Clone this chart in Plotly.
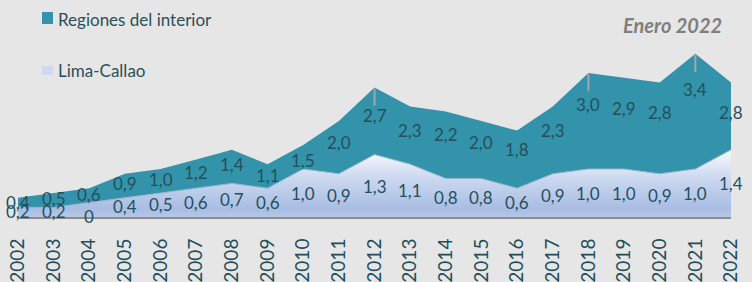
import plotly.graph_objects as go

years = list(range(2002, 2023))
year_labels = [str(y) for y in years]

regiones = [0.4, 0.5, 0.6, 0.9, 1.0, 1.2, 1.4, 1.1, 1.5, 2.0, 2.7, 2.3, 2.2, 2.0, 1.8, 2.3, 3.0, 2.9, 2.8, 3.4, 2.8]
lima = [0.2, 0.2, 0.3, 0.4, 0.5, 0.6, 0.7, 0.6, 1.0, 0.9, 1.3, 1.1, 0.8, 0.8, 0.6, 0.9, 1.0, 1.0, 0.9, 1.0, 1.4]

regiones_text = ["0,4", "0,5", "0,6", "0,9", "1,0", "1,2", "1,4", "1,1", "1,5", "2,0", "2,7",
                 "2,3", "2,2", "2,0", "1,8", "2,3", "3,0", "2,9", "2,8", "3,4", "2,8"]
lima_text = ["0,2", "0,2", "0", "0,4", "0,5", "0,6", "0,7", "0,6", "1,0", "0,9", "1,3",
             "1,1", "0,8", "0,8", "0,6", "0,9", "1,0", "1,0", "0,9", "1,0", "1,4"]
leader_years = [2012, 2018, 2021]

W_FIG, H_FIG = 752, 282
L, R, T, B = 18, 21, 1, 65
PW, PH = W_FIG - L - R, H_FIG - T - B

def pxx(p):
    return (p - L) / PW

def pxy(p):
    return 1 - (p - T) / PH

TEAL = "#3393AA"
LABEL_C = "#23505C"
FONT = "Lato"

fig = go.Figure()
fig.add_trace(go.Scatter(
    x=years, y=regiones, mode="none", fill="tozeroy", fillcolor=TEAL,
    name="Regiones del interior", showlegend=False, hoverinfo="skip"))
fig.add_trace(go.Scatter(
    x=years, y=lima, mode="lines", fill="tozeroy",
    line=dict(color="#9CB6CC", width=1),
    fillgradient=dict(type="vertical", start=0, stop=max(lima),
                      colorscale=[[0, "#B6C7E8"], [0.12, "#A9BDE3"], [0.55, "#C9D6EF"], [1, "#F8FAFE"]]),
    name="Lima-Callao", showlegend=False, hoverinfo="skip"))

annotations = []
for x, v, t in zip(years, regiones, regiones_text):
    annotations.append(dict(x=x, y=0.78 * v, text=t, showarrow=False, xanchor="center", yanchor="middle",
                            font=dict(family=FONT, size=17, color=LABEL_C)))
for x, t in zip(years, lima_text):
    v = float(t.replace(",", "."))
    annotations.append(dict(x=x, y=0.48 * v + 0.02, text=t, showarrow=False, xanchor="center", yanchor="middle",
                            font=dict(family=FONT, size=17, color=LABEL_C)))

# legend (custom)
annotations.append(dict(xref="paper", yref="paper", x=pxx(56), y=pxy(19), text="Regiones del interior",
                        showarrow=False, xanchor="left", yanchor="middle",
                        font=dict(family=FONT, size=17, color="#2B4F5A")))
annotations.append(dict(xref="paper", yref="paper", x=pxx(56), y=pxy(70), text="Lima-Callao",
                        showarrow=False, xanchor="left", yanchor="middle",
                        font=dict(family=FONT, size=17, color="#2B4F5A")))
annotations.append(dict(xref="paper", yref="paper", x=pxx(724), y=pxy(25), text="<b><i>Enero 2022</i></b>",
                        showarrow=False, xanchor="right", yanchor="middle",
                        font=dict(family=FONT, size=20, color="#7F7F7F")))

shapes = [
    dict(type="rect", xref="paper", yref="paper", x0=pxx(42), x1=pxx(53), y0=pxy(24), y1=pxy(12),
         fillcolor=TEAL, line=dict(width=0)),
    dict(type="rect", xref="paper", yref="paper", x0=pxx(42), x1=pxx(53), y0=pxy(75), y1=pxy(66),
         fillcolor="#CFDAF0", line=dict(width=0)),
]
for ly in leader_years:
    v = regiones[years.index(ly)]
    shapes.append(dict(type="line", x0=ly, x1=ly, y0=v - 0.02, y1=v - 0.38,
                       line=dict(color="#A6A6A6", width=2)))

fig.update_layout(
    width=W_FIG, height=H_FIG,
    margin=dict(l=L, r=R, t=T, b=B),
    paper_bgcolor="#E6E6E6", plot_bgcolor="#E6E6E6",
    xaxis=dict(range=[2002, 2022], tickvals=years, ticktext=year_labels, tickangle=-90,
               showgrid=False, zeroline=False, showline=True, linecolor="#8C8C8C", linewidth=2,
               ticks="", ticklabelstandoff=12, automargin=False,
               tickfont=dict(family=FONT, size=19, color="#1E4F5B")),
    yaxis=dict(range=[0, PH / 48.0], visible=False, showgrid=False, zeroline=False),
    annotations=annotations, shapes=shapes, showlegend=False,
)

fig.write_html("out.html", config={"displayModeBar": False, "staticPlot": True},
               post_script="document.body.style.margin='0';document.body.style.padding='0';"
                           "document.body.style.background='#E6E6E6';document.body.style.overflow='hidden';")
